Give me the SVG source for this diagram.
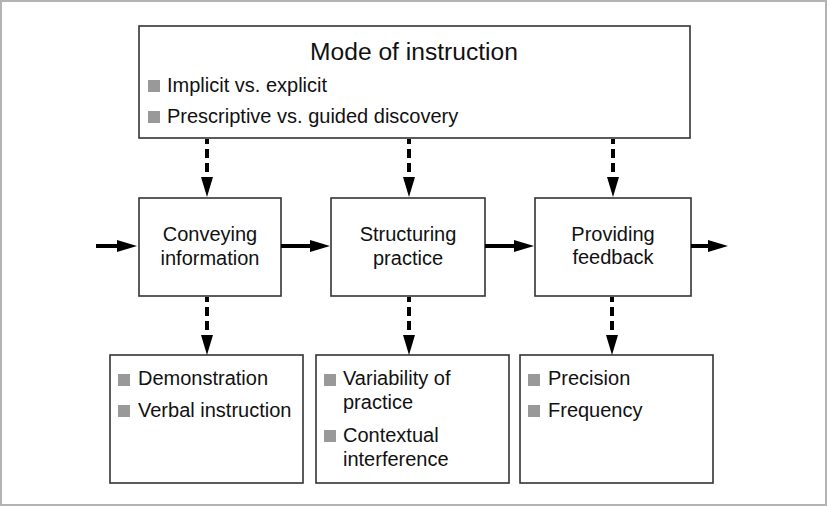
<svg xmlns="http://www.w3.org/2000/svg" width="830" height="506" viewBox="0 0 830 506">
<style>
.frame{fill:#fff;stroke:#b3b3b3;stroke-width:2}
.box{fill:#fff;stroke:#333;stroke-width:1.6}
.t{font-family:"Liberation Sans",Arial,sans-serif;font-size:20px;fill:#111}
.c{text-anchor:middle}
.title{font-family:"Liberation Sans",Arial,sans-serif;font-size:24.6px;fill:#111;text-anchor:middle}
.b{fill:#999}
.solid{stroke:#000;stroke-width:4;fill:none}
.dash{stroke:#000;stroke-width:4;fill:none;stroke-dasharray:9 5;stroke-dashoffset:4}
</style>
<defs>
<marker id="ah" viewBox="0 0 20 12" refX="1" refY="6" markerWidth="20" markerHeight="12" markerUnits="userSpaceOnUse" orient="auto">
<path d="M0,0 L20,6 L0,12 z" fill="#000"/>
</marker>
</defs>
<rect class="frame" x="1" y="1" width="825" height="504"/>

<g id="mode">
<rect class="box" x="139" y="26" width="551" height="112"/>
<text class="title" x="414" y="60">Mode of instruction</text>
<rect class="b" x="148" y="80" width="12" height="12"/>
<text class="t" x="167" y="92">Implicit vs. explicit</text>
<rect class="b" x="148" y="111" width="12" height="12"/>
<text class="t" x="167" y="123">Prescriptive vs. guided discovery</text>
</g>

<g id="conveying">
<rect class="box" x="139" y="198" width="142" height="98"/>
<text class="t c" x="210" y="241">Conveying</text>
<text class="t c" x="210" y="265">information</text>
</g>

<g id="structuring">
<rect class="box" x="331" y="198" width="154" height="98"/>
<text class="t c" x="408" y="241">Structuring</text>
<text class="t c" x="408" y="265">practice</text>
</g>

<g id="providing">
<rect class="box" x="535" y="198" width="156" height="98"/>
<text class="t c" x="613" y="241">Providing</text>
<text class="t c" x="613" y="264">feedback</text>
</g>

<g id="info-items">
<rect class="box" x="110" y="355" width="193" height="128"/>
<rect class="b" x="118" y="374" width="12" height="12"/>
<text class="t" x="138" y="385">Demonstration</text>
<rect class="b" x="118" y="405" width="12" height="12"/>
<text class="t" x="138" y="417">Verbal instruction</text>
</g>

<g id="practice-items">
<rect class="box" x="316" y="355" width="193" height="128"/>
<rect class="b" x="324" y="374" width="12" height="12"/>
<text class="t" x="343" y="385">Variability of</text>
<text class="t" x="343" y="409">practice</text>
<rect class="b" x="324" y="430" width="12" height="12"/>
<text class="t" x="343" y="442">Contextual</text>
<text class="t" x="343" y="466">interference</text>
</g>

<g id="feedback-items">
<rect class="box" x="520" y="355" width="193" height="128"/>
<rect class="b" x="528" y="374" width="12" height="12"/>
<text class="t" x="548" y="385">Precision</text>
<rect class="b" x="528" y="405" width="12" height="12"/>
<text class="t" x="548" y="417">Frequency</text>
</g>

<g id="connectors">
<line class="solid" x1="96" y1="246" x2="118" y2="246" marker-end="url(#ah)"/>
<line class="solid" x1="281" y1="246" x2="311" y2="246" marker-end="url(#ah)"/>
<line class="solid" x1="485" y1="246" x2="515" y2="246" marker-end="url(#ah)"/>
<line class="solid" x1="691" y1="246" x2="709" y2="246" marker-end="url(#ah)"/>
<line class="dash" x1="207" y1="139" x2="207" y2="178" marker-end="url(#ah)"/>
<line class="dash" x1="409" y1="139" x2="409" y2="178" marker-end="url(#ah)"/>
<line class="dash" x1="613" y1="139" x2="613" y2="178" marker-end="url(#ah)"/>
<line class="dash" x1="207" y1="297" x2="207" y2="336" marker-end="url(#ah)"/>
<line class="dash" x1="409" y1="297" x2="409" y2="336" marker-end="url(#ah)"/>
<line class="dash" x1="612" y1="297" x2="612" y2="336" marker-end="url(#ah)"/>
</g>
</svg>
